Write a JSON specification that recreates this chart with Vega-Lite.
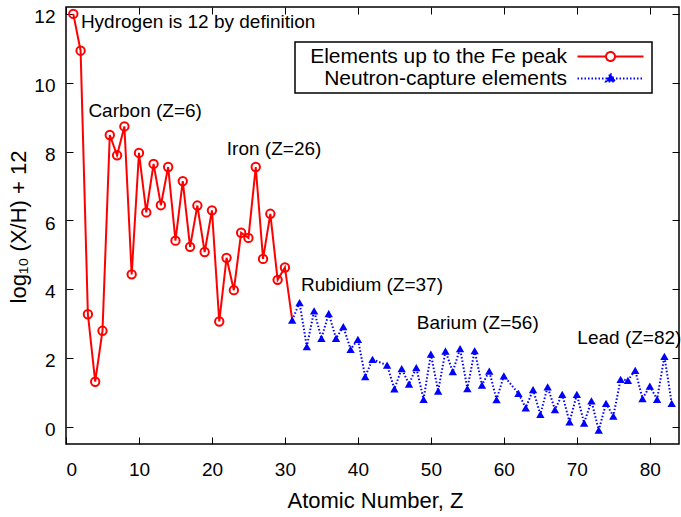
{
  "$schema": "https://vega.github.io/schema/vega-lite/v6.json",
  "width": 613,
  "height": 437,
  "autosize": {"type": "none"},
  "padding": {"left": 66, "top": 7, "right": 2, "bottom": 73},
  "background": "white",
  "config": {
    "font": "Liberation Sans",
    "view": {"stroke": "black", "strokeWidth": 1.5},
    "axis": {
      "grid": false, "domain": false, "tickColor": "black", "tickSize": -7, "tickWidth": 1,
      "labelFont": "Liberation Sans", "labelFontSize": 19, "labelColor": "black",
      "titleFont": "Liberation Sans", "titleFontSize": 22, "titleFontWeight": "normal", "titleColor": "black"
    }
  },
  "datasets": {
    "abund": [
      {"Z": 1, "v": 12.00, "series": "Elements up to the Fe peak"},
      {"Z": 2, "v": 10.93, "series": "Elements up to the Fe peak"},
      {"Z": 3, "v": 3.27, "series": "Elements up to the Fe peak"},
      {"Z": 4, "v": 1.31, "series": "Elements up to the Fe peak"},
      {"Z": 5, "v": 2.79, "series": "Elements up to the Fe peak"},
      {"Z": 6, "v": 8.48, "series": "Elements up to the Fe peak"},
      {"Z": 7, "v": 7.89, "series": "Elements up to the Fe peak"},
      {"Z": 8, "v": 8.73, "series": "Elements up to the Fe peak"},
      {"Z": 9, "v": 4.43, "series": "Elements up to the Fe peak"},
      {"Z": 10, "v": 7.96, "series": "Elements up to the Fe peak"},
      {"Z": 11, "v": 6.23, "series": "Elements up to the Fe peak"},
      {"Z": 12, "v": 7.64, "series": "Elements up to the Fe peak"},
      {"Z": 13, "v": 6.44, "series": "Elements up to the Fe peak"},
      {"Z": 14, "v": 7.55, "series": "Elements up to the Fe peak"},
      {"Z": 15, "v": 5.41, "series": "Elements up to the Fe peak"},
      {"Z": 16, "v": 7.14, "series": "Elements up to the Fe peak"},
      {"Z": 17, "v": 5.23, "series": "Elements up to the Fe peak"},
      {"Z": 18, "v": 6.43, "series": "Elements up to the Fe peak"},
      {"Z": 19, "v": 5.08, "series": "Elements up to the Fe peak"},
      {"Z": 20, "v": 6.29, "series": "Elements up to the Fe peak"},
      {"Z": 21, "v": 3.06, "series": "Elements up to the Fe peak"},
      {"Z": 22, "v": 4.91, "series": "Elements up to the Fe peak"},
      {"Z": 23, "v": 3.97, "series": "Elements up to the Fe peak"},
      {"Z": 24, "v": 5.64, "series": "Elements up to the Fe peak"},
      {"Z": 25, "v": 5.49, "series": "Elements up to the Fe peak"},
      {"Z": 26, "v": 7.55, "series": "Elements up to the Fe peak"},
      {"Z": 27, "v": 4.88, "series": "Elements up to the Fe peak"},
      {"Z": 28, "v": 6.19, "series": "Elements up to the Fe peak"},
      {"Z": 29, "v": 4.27, "series": "Elements up to the Fe peak"},
      {"Z": 30, "v": 4.63, "series": "Elements up to the Fe peak"},
      {"Z": 31, "v": 3.10, "series": "Elements up to the Fe peak"},
      {"Z": 31, "v": 3.10, "series": "Neutron-capture elements"},
      {"Z": 32, "v": 3.61, "series": "Neutron-capture elements"},
      {"Z": 33, "v": 2.33, "series": "Neutron-capture elements"},
      {"Z": 34, "v": 3.37, "series": "Neutron-capture elements"},
      {"Z": 35, "v": 2.57, "series": "Neutron-capture elements"},
      {"Z": 36, "v": 3.29, "series": "Neutron-capture elements"},
      {"Z": 37, "v": 2.57, "series": "Neutron-capture elements"},
      {"Z": 38, "v": 2.91, "series": "Neutron-capture elements"},
      {"Z": 39, "v": 2.25, "series": "Neutron-capture elements"},
      {"Z": 40, "v": 2.54, "series": "Neutron-capture elements"},
      {"Z": 41, "v": 1.46, "series": "Neutron-capture elements"},
      {"Z": 42, "v": 1.96, "series": "Neutron-capture elements"},
      {"Z": 44, "v": 1.79, "series": "Neutron-capture elements"},
      {"Z": 45, "v": 1.10, "series": "Neutron-capture elements"},
      {"Z": 46, "v": 1.69, "series": "Neutron-capture elements"},
      {"Z": 47, "v": 1.24, "series": "Neutron-capture elements"},
      {"Z": 48, "v": 1.72, "series": "Neutron-capture elements"},
      {"Z": 49, "v": 0.80, "series": "Neutron-capture elements"},
      {"Z": 50, "v": 2.11, "series": "Neutron-capture elements"},
      {"Z": 51, "v": 1.04, "series": "Neutron-capture elements"},
      {"Z": 52, "v": 2.20, "series": "Neutron-capture elements"},
      {"Z": 53, "v": 1.60, "series": "Neutron-capture elements"},
      {"Z": 54, "v": 2.27, "series": "Neutron-capture elements"},
      {"Z": 55, "v": 1.11, "series": "Neutron-capture elements"},
      {"Z": 56, "v": 2.21, "series": "Neutron-capture elements"},
      {"Z": 57, "v": 1.21, "series": "Neutron-capture elements"},
      {"Z": 58, "v": 1.62, "series": "Neutron-capture elements"},
      {"Z": 59, "v": 0.79, "series": "Neutron-capture elements"},
      {"Z": 60, "v": 1.48, "series": "Neutron-capture elements"},
      {"Z": 62, "v": 0.97, "series": "Neutron-capture elements"},
      {"Z": 63, "v": 0.55, "series": "Neutron-capture elements"},
      {"Z": 64, "v": 1.08, "series": "Neutron-capture elements"},
      {"Z": 65, "v": 0.36, "series": "Neutron-capture elements"},
      {"Z": 66, "v": 1.16, "series": "Neutron-capture elements"},
      {"Z": 67, "v": 0.50, "series": "Neutron-capture elements"},
      {"Z": 68, "v": 0.94, "series": "Neutron-capture elements"},
      {"Z": 69, "v": 0.14, "series": "Neutron-capture elements"},
      {"Z": 70, "v": 0.94, "series": "Neutron-capture elements"},
      {"Z": 71, "v": 0.11, "series": "Neutron-capture elements"},
      {"Z": 72, "v": 0.75, "series": "Neutron-capture elements"},
      {"Z": 73, "v": -0.10, "series": "Neutron-capture elements"},
      {"Z": 74, "v": 0.68, "series": "Neutron-capture elements"},
      {"Z": 75, "v": 0.31, "series": "Neutron-capture elements"},
      {"Z": 76, "v": 1.38, "series": "Neutron-capture elements"},
      {"Z": 77, "v": 1.35, "series": "Neutron-capture elements"},
      {"Z": 78, "v": 1.64, "series": "Neutron-capture elements"},
      {"Z": 79, "v": 0.82, "series": "Neutron-capture elements"},
      {"Z": 80, "v": 1.18, "series": "Neutron-capture elements"},
      {"Z": 81, "v": 0.80, "series": "Neutron-capture elements"},
      {"Z": 82, "v": 2.05, "series": "Neutron-capture elements"},
      {"Z": 83, "v": 0.68, "series": "Neutron-capture elements"}
    ],
    "notes": [
      {"Z": 2.04, "v": 11.59, "label": "Hydrogen is 12 by definition"},
      {"Z": 3.07, "v": 9.0, "label": "Carbon (Z=6)"},
      {"Z": 22.04, "v": 7.89, "label": "Iron (Z=26)"},
      {"Z": 32.2, "v": 3.94, "label": "Rubidium (Z=37)"},
      {"Z": 48.07, "v": 2.83, "label": "Barium (Z=56)"},
      {"Z": 70.07, "v": 2.42, "label": "Lead (Z=82)"}
    ]
  },
  "layer": [
    {
      "mark": {"type": "rule", "strokeDash": [1, 2], "color": "#333333", "strokeWidth": 1},
      "encoding": {
        "y": {"datum": 0, "type": "quantitative", "scale": {"domain": [-0.5, 12.2], "nice": false, "zero": false}, "axis": null}
      }
    },
    {
      "data": {"name": "abund"},
      "transform": [{"filter": "datum.series == 'Elements up to the Fe peak'"}],
      "mark": {"type": "line", "strokeWidth": 2},
      "encoding": {
        "x": {
          "field": "Z", "type": "quantitative",
          "scale": {"domain": [0, 84], "nice": false, "zero": false},
          "axis": {"values": [0, 10, 20, 30, 40, 50, 60, 70, 80], "title": "Atomic Number, Z", "labelBaseline": "alphabetic", "labelPadding": 38, "titleX": 309, "titleY": 63, "titleBaseline": "alphabetic"}
        },
        "y": {
          "field": "v", "type": "quantitative",
          "scale": {"domain": [-0.5, 12.2], "nice": false, "zero": false},
          "axis": {"values": [0, 2, 4, 6, 8, 10, 12], "title": "log₁₀ (X/H) + 12", "labelPadding": 18, "labelBaseline": "alphabetic", "labelOffset": 8.7, "titleX": -41, "titleY": 219.5, "titleBaseline": "alphabetic"}
        },
        "color": {
          "field": "series", "type": "nominal",
          "scale": {"domain": ["Elements up to the Fe peak", "Neutron-capture elements"], "range": ["#ff0000", "#0000ff"]},
          "legend": {
            "title": null, "orient": "none", "legendX": 229, "legendY": 35, "padding": 4,
            "strokeColor": "black", "fillColor": "white", "rowPadding": 0,
            "labelFont": "Liberation Sans", "labelFontSize": 21, "labelColor": "black",
            "labelAlign": "right", "labelOffset": 247, "labelLimit": 400,
            "symbolSize": 4, "symbolStrokeWidth": 2,
            "encode": {
              "legend": {"update": {"strokeWidth": {"value": 1.5}}},
              "symbols": {"update": {
                "shape": {"signal": "datum.value == 'Elements up to the Fe peak' ? 'M268,0H296.5M305.5,0H334M305.5,0A4.5,4.5 0 1,0 296.5,0A4.5,4.5 0 1,0 305.5,0' : 'M268,0H334M301,-5L305.5,3L296.5,3Z'"},
                "stroke": {"signal": "datum.value == 'Elements up to the Fe peak' ? '#ff0000' : '#0000ff'"},
                "fill": {"signal": "datum.value == 'Elements up to the Fe peak' ? 'transparent' : '#0000ff'"},
                "strokeDash": {"signal": "datum.value == 'Elements up to the Fe peak' ? [1, 0] : [1.5, 2]"},
                "strokeWidth": {"value": 2},
                "opacity": {"value": 1}
              }}
            }
          }
        }
      }
    },
    {
      "data": {"name": "abund"},
      "transform": [{"filter": "datum.series == 'Neutron-capture elements'"}],
      "mark": {"type": "line", "strokeWidth": 2, "strokeDash": [1.5, 2]},
      "encoding": {
        "x": {
          "field": "Z", "type": "quantitative",
          "scale": {"domain": [0, 84], "nice": false, "zero": false},
          "axis": {"orient": "top", "labels": false, "title": null, "values": [0, 10, 20, 30, 40, 50, 60, 70, 80]}
        },
        "y": {
          "field": "v", "type": "quantitative",
          "scale": {"domain": [-0.5, 12.2], "nice": false, "zero": false},
          "axis": {"orient": "right", "labels": false, "title": null, "values": [0, 2, 4, 6, 8, 10, 12]}
        },
        "color": {"field": "series", "type": "nominal"}
      }
    },
    {
      "data": {"name": "abund"},
      "transform": [{"filter": "datum.series == 'Elements up to the Fe peak' && datum.Z <= 30"}],
      "mark": {"type": "point", "shape": "circle", "filled": false, "color": "#ff0000", "strokeWidth": 2, "size": 70, "opacity": 1},
      "encoding": {
        "x": {"field": "Z", "type": "quantitative", "axis": null},
        "y": {"field": "v", "type": "quantitative", "axis": null}
      }
    },
    {
      "data": {"name": "abund"},
      "transform": [{"filter": "datum.series == 'Neutron-capture elements'"}],
      "mark": {"type": "point", "shape": "triangle-up", "filled": true, "color": "#0000ff", "strokeWidth": 0, "size": 70, "opacity": 1},
      "encoding": {
        "x": {"field": "Z", "type": "quantitative", "axis": null},
        "y": {"field": "v", "type": "quantitative", "axis": null}
      }
    },
    {
      "data": {"name": "notes"},
      "mark": {"type": "text", "align": "left", "baseline": "alphabetic", "fontSize": 19, "font": "Liberation Sans", "color": "black"},
      "encoding": {
        "x": {"field": "Z", "type": "quantitative", "axis": null},
        "y": {"field": "v", "type": "quantitative", "axis": null},
        "text": {"field": "label"}
      }
    }
  ],
  "resolve": {"axis": {"x": "independent", "y": "independent"}}
}
